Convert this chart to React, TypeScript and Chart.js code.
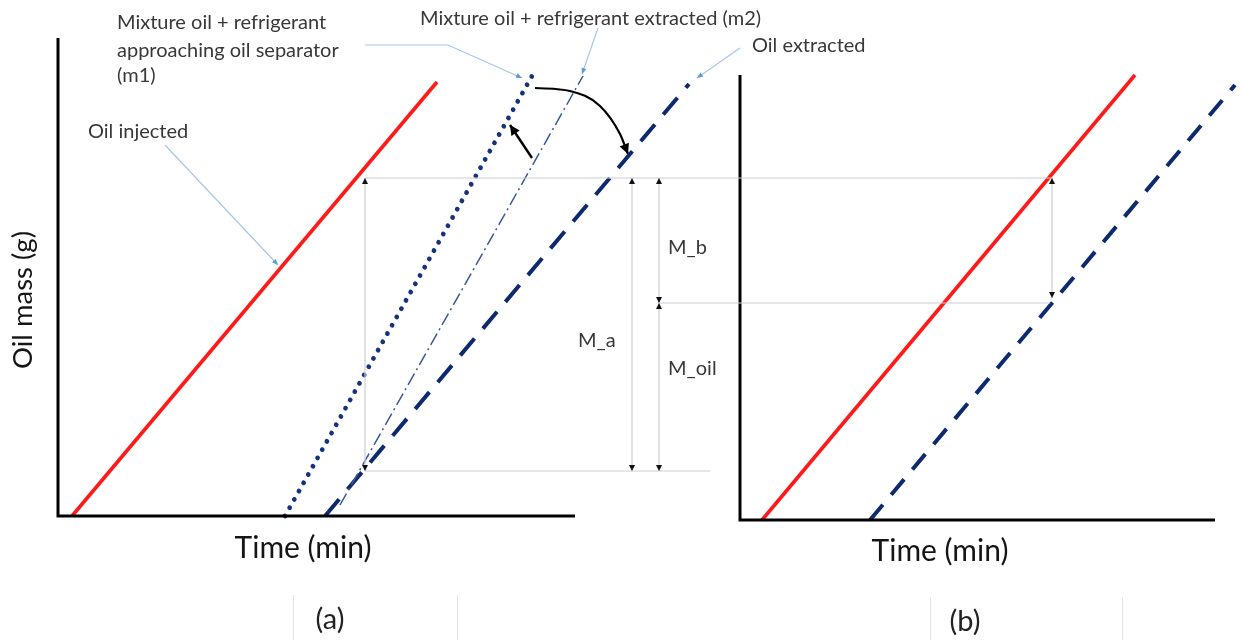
import React, { useEffect, useRef } from "react";
import { Chart, registerables } from "chart.js";
Chart.register(...registerables);

// Schematic units: x = time (arbitrary min), y = oil mass (arbitrary g)
type P = { x: number; y: number };

// Panel (a) axes and curves
const axesA: P[] = [{ x: 5.8, y: 60.2 }, { x: 5.8, y: 12.4 }, { x: 57.5, y: 12.4 }];
const oilInjectedA: P[] = [{ x: 7.2, y: 12.4 }, { x: 43.7, y: 55.8 }];
const mixtureM1A: P[] = [{ x: 28.5, y: 12.4 }, { x: 53.2, y: 56.4 }];
const mixtureM2A: P[] = [{ x: 34.0, y: 13.5 }, { x: 58.3, y: 56.4 }];
const oilExtractedA: P[] = [{ x: 32.5, y: 12.4 }, { x: 68.9, y: 55.6 }];

// Panel (b) axes and curves
const axesB: P[] = [{ x: 74.0, y: 56.5 }, { x: 74.0, y: 12.0 }, { x: 121.5, y: 12.0 }];
const oilInjectedB: P[] = [{ x: 76.2, y: 12.0 }, { x: 113.5, y: 56.5 }];
const oilExtractedB: P[] = [{ x: 87.0, y: 12.0 }, { x: 123.5, y: 55.5 }];

// Mass levels used by the dimension lines
const levelTop = 46.2;
const levelMid = 33.7;
const levelLow = 16.9;

// Dimension (reference) lines
const refLineTop: P[] = [{ x: 36.5, y: levelTop }, { x: 105.3, y: levelTop }];
const refLineLow: P[] = [{ x: 36.5, y: levelLow }, { x: 71.0, y: levelLow }];
const refLineMid: P[] = [{ x: 66.0, y: levelMid }, { x: 105.0, y: levelMid }];
const dimLeft: P[] = [{ x: 36.5, y: levelTop }, { x: 36.5, y: levelLow }];
const dimMa: P[] = [{ x: 63.2, y: levelTop }, { x: 63.2, y: levelLow }];
const dimMb: P[] = [{ x: 65.9, y: levelTop }, { x: 65.9, y: levelMid }];
const dimMoil: P[] = [{ x: 65.9, y: levelMid }, { x: 65.9, y: levelLow }];
const dimB: P[] = [{ x: 105.2, y: levelTop }, { x: 105.2, y: levelMid + 0.5 }];

// Callout leader lines
const leaderInjected: P[] = [{ x: 16.5, y: 49.5 }, { x: 27.8, y: 37.5 }];
const leaderM1: P[] = [{ x: 36.5, y: 59.5 }, { x: 44.8, y: 59.5 }, { x: 52.2, y: 56.2 }];
const leaderM2: P[] = [{ x: 59.8, y: 61.2 }, { x: 58.2, y: 56.6 }];
const leaderExtracted: P[] = [{ x: 74.0, y: 59.2 }, { x: 69.7, y: 56.2 }];

// Black process arrows
const curvedArrow: P[] = [
  { x: 53.5, y: 55.2 },
  { x: 57.0, y: 54.9 },
  { x: 60.0, y: 53.4 },
  { x: 62.0, y: 50.6 },
  { x: 62.8, y: 48.6 },
];
const shortArrow: P[] = [{ x: 53.2, y: 48.2 }, { x: 51.0, y: 51.5 }];

// Text labels (anchored at their left baseline)
const labelTexts = [
  "Mixture oil + refrigerant",
  "approaching oil separator",
  "(m1)",
  "Mixture oil + refrigerant extracted (m2)",
  "Oil extracted",
  "Oil injected",
  "M_a",
  "M_b",
  "M_oil",
];
const labelPos: P[] = [
  { x: 11.7, y: 61.1 },
  { x: 11.7, y: 58.3 },
  { x: 11.7, y: 55.8 },
  { x: 42.0, y: 61.5 },
  { x: 75.2, y: 58.8 },
  { x: 8.8, y: 50.2 },
  { x: 57.8, y: 29.3 },
  { x: 66.8, y: 38.6 },
  { x: 66.8, y: 26.5 },
];
const axisTitleTime = "Time (min)";
const axisTitleMass = "Oil mass (g)";
const timeTitlePos: P[] = [{ x: 30.3, y: 8.2 }, { x: 94.0, y: 7.9 }];
const massTitlePos: P = { x: 2.3, y: 34.0 };
const panelLabels = ["(a)", "(b)"];
const panelLabelPos: P[] = [{ x: 33.0, y: 1.1 }, { x: 96.5, y: 0.9 }];
const tableLines: P[][] = [
  [{ x: 29.3, y: 4.5 }, { x: 29.3, y: 0 }],
  [{ x: 45.7, y: 4.5 }, { x: 45.7, y: 0 }],
  [{ x: 93.0, y: 4.2 }, { x: 93.0, y: 0 }],
  [{ x: 112.2, y: 4.2 }, { x: 112.2, y: 0 }],
];

const FONT = "Lato, 'Open Sans', sans-serif";
const RED = "#ff1a1a";
const NAVY = "#0d2a6e";
const DIM = "#c9ced4";
const LEADER = "#a8c6e6";

const line = (data: P[], color: string, width: number, dash: number[] = [], extra: any = {}) => ({
  data,
  borderColor: color,
  borderWidth: width,
  borderDash: dash,
  pointRadius: 0,
  showLine: true,
  fill: false,
  tension: 0,
  ...extra,
});

export default function App() {
  const ref = useRef<HTMLCanvasElement | null>(null);
  useEffect(() => {
    document.body.style.margin = "0";
    const canvas = ref.current!;
    const arrowHeads: { seg: P[]; color: string; len: number; half: number }[] = [];
    const addDimArrows = (seg: P[]) => {
      arrowHeads.push({ seg: [seg[1], seg[0]], color: "#111", len: 6, half: 3 });
      arrowHeads.push({ seg: [seg[0], seg[1]], color: "#111", len: 6, half: 3 });
    };
    [dimLeft, dimMa, dimMb, dimMoil, dimB].forEach(addDimArrows);
    [leaderInjected, leaderM1, leaderM2, leaderExtracted].forEach((l) =>
      arrowHeads.push({ seg: [l[l.length - 2], l[l.length - 1]], color: "#5b9bd5", len: 6, half: 2.5 })
    );
    arrowHeads.push({ seg: [curvedArrow[3], curvedArrow[4]], color: "#000", len: 10, half: 5 });
    arrowHeads.push({ seg: [shortArrow[0], shortArrow[1]], color: "#000", len: 10, half: 5 });

    const overlay = {
      id: "overlay",
      afterDatasetsDraw(chart: any) {
        const ctx = chart.ctx as CanvasRenderingContext2D;
        const xs = chart.scales.x;
        const ys = chart.scales.y;
        const px = (p: P) => [xs.getPixelForValue(p.x), ys.getPixelForValue(p.y)];
        ctx.save();
        arrowHeads.forEach((a) => {
          const [x0, y0] = px(a.seg[0]);
          const [x1, y1] = px(a.seg[1]);
          const ang = Math.atan2(y1 - y0, x1 - x0);
          ctx.fillStyle = a.color;
          ctx.beginPath();
          ctx.moveTo(x1, y1);
          ctx.lineTo(x1 - a.len * Math.cos(ang) + a.half * Math.sin(ang), y1 - a.len * Math.sin(ang) - a.half * Math.cos(ang));
          ctx.lineTo(x1 - a.len * Math.cos(ang) - a.half * Math.sin(ang), y1 - a.len * Math.sin(ang) + a.half * Math.cos(ang));
          ctx.closePath();
          ctx.fill();
        });
        ctx.strokeStyle = "#e2e2e2";
        ctx.lineWidth = 1;
        tableLines.forEach((l) => {
          const [x0, y0] = px(l[0]);
          const [x1, y1] = px(l[1]);
          ctx.beginPath();
          ctx.moveTo(Math.round(x0) + 0.5, y0);
          ctx.lineTo(Math.round(x1) + 0.5, y1);
          ctx.stroke();
        });
        ctx.textBaseline = "alphabetic";
        ctx.fillStyle = "#383838";
        ctx.textAlign = "left";
        ctx.font = `20px ${FONT}`;
        labelTexts.forEach((t, i) => {
          const [x, y] = px(labelPos[i]);
          ctx.fillText(t, x, y);
        });
        ctx.fillStyle = "#151515";
        ctx.textAlign = "center";
        ctx.font = `30px ${FONT}`;
        timeTitlePos.forEach((p) => {
          const [x, y] = px(p);
          ctx.fillText(axisTitleTime, x, y);
        });
        const [mx, my] = px(massTitlePos);
        ctx.save();
        ctx.translate(mx, my);
        ctx.rotate(-Math.PI / 2);
        ctx.textBaseline = "middle";
        ctx.font = `27.5px ${FONT}`;
        ctx.fillText(axisTitleMass, 0, 0);
        ctx.restore();
        ctx.fillStyle = "#222";
        ctx.font = `29px ${FONT}`;
        panelLabels.forEach((t, i) => {
          const [x, y] = px(panelLabelPos[i]);
          ctx.fillText(t, x, y);
        });
        ctx.restore();
      },
    };

    const chart = new Chart(canvas, {
      type: "scatter",
      data: {
        datasets: [
          line(refLineTop, DIM, 1.2),
          line(refLineLow, DIM, 1.2),
          line(refLineMid, DIM, 1.2),
          line(dimLeft, DIM, 1.2),
          line(dimMa, DIM, 1.2),
          line(dimMb, DIM, 1.2),
          line(dimMoil, DIM, 1.2),
          line(dimB, DIM, 1.2),
          line(leaderInjected, LEADER, 1.2),
          line(leaderM1, LEADER, 1.2),
          line(leaderM2, LEADER, 1.2),
          line(leaderExtracted, LEADER, 1.2),
          line(axesA, "#000", 3),
          line(axesB, "#000", 3),
          line(oilInjectedA, RED, 3.6),
          line(oilInjectedB, RED, 3.6),
          line(mixtureM1A, "#15327a", 4.8, [0.01, 9.5], { borderCapStyle: "round" }),
          line(mixtureM2A, "#3a5896", 1.5, [13, 4, 2, 4]),
          line(oilExtractedA, NAVY, 4, [22, 13]),
          line(oilExtractedB, NAVY, 4, [20, 13]),
          line(curvedArrow, "#000", 2.2, [], { tension: 0.4, cubicInterpolationMode: "monotone" }),
          line(shortArrow, "#000", 2.4),
        ],
      },
      options: {
        responsive: false,
        animation: false,
        devicePixelRatio: 1,
        layout: { padding: 0 },
        plugins: { legend: { display: false }, tooltip: { enabled: false } },
        events: [],
        scales: {
          x: { type: "linear", min: 0, max: 124.3, display: false },
          y: { type: "linear", min: 0, max: 64, display: false },
        },
      },
      plugins: [overlay],
    });
    return () => chart.destroy();
  }, []);
  return (
    <div style={{ width: 1243, height: 640, background: "#fff" }}>
      <canvas ref={ref} width={1243} height={640} />
    </div>
  );
}
